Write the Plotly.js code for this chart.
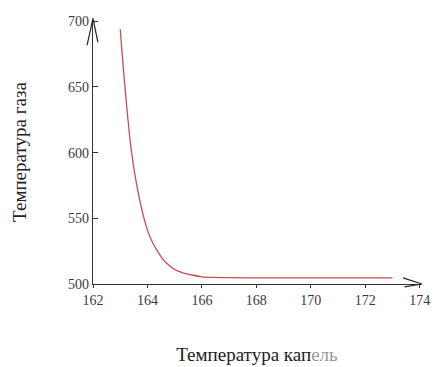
<!DOCTYPE html>
<html><head><meta charset="utf-8">
<script src="https://cdn.plot.ly/plotly-3.0.1.min.js"></script>
<style>html,body{margin:0;padding:0;background:#fff}#chart{width:436px;height:367px}</style>
</head><body><div id="chart"></div>
<script>
const dropTemp = [163, 163.2, 163.4, 163.6, 163.8, 164, 164.2, 164.4, 164.6, 164.8, 165, 165.3, 165.6, 166, 166.5, 167, 168, 169, 170, 171, 172, 173];
const gasTemp  = [694, 644, 603, 576, 556, 541, 531, 524, 518, 514, 511, 508.5, 507, 505.5, 505, 504.8, 504.7, 504.6, 504.6, 504.6, 504.6, 504.6];
const xTicks = [162, 164, 166, 168, 170, 172, 174];
const yTicks = [500, 550, 600, 650, 700];

const serif = "Liberation Serif, Times New Roman, serif";
const data = [{
  x: dropTemp, y: gasTemp, type: 'scatter', mode: 'lines',
  line: {color: '#cc4a50', width: 1.3, shape: 'spline'}, hoverinfo: 'skip'
}];
const layout = {
  width: 436, height: 367,
  margin: {l: 93, r: 15, t: 20, b: 83},
  paper_bgcolor: '#fff', plot_bgcolor: '#fff',
  showlegend: false,
  font: {family: serif, color: '#333', size: 14},
  xaxis: {
    range: [162, 174.05], tickvals: xTicks, ticktext: xTicks.map(String),
    showgrid: false, zeroline: false, showline: true, linecolor: '#333', linewidth: 1.2,
    ticks: 'outside', ticklen: 3, tickcolor: '#333', tickwidth: 1,
    tickfont: {family: serif, size: 14, color: '#3a3a3a'},
    title: {text: 'Температура кап<span style="color:#999">ель</span>', font: {family: serif, size: 19, color: '#222'}, standoff: 40}
  },
  yaxis: {
    range: [500, 701], tickvals: yTicks, ticktext: yTicks.map(String),
    showgrid: false, zeroline: false, showline: true, linecolor: '#333', linewidth: 1.2,
    ticks: 'inside', ticklen: 5, tickcolor: '#333', tickwidth: 1,
    tickfont: {family: serif, size: 14, color: '#3a3a3a'},
    title: {text: 'Температура газа', font: {family: serif, size: 19, color: '#222'}, standoff: 36}
  },
  shapes: [
    {type: 'path', xref: 'paper', yref: 'paper', path: 'M -0.018 0.905 L 0 1.006 L 0.015 0.915', line: {color: '#222', width: 1.2}},
    {type: 'path', xref: 'paper', yref: 'paper', path: 'M 0.945 0.023 L 1.003 0 L 0.95 -0.011', line: {color: '#222', width: 1.2}}
  ]
};
Plotly.newPlot('chart', data, layout, {staticPlot: true, displayModeBar: false});
</script></body></html>
